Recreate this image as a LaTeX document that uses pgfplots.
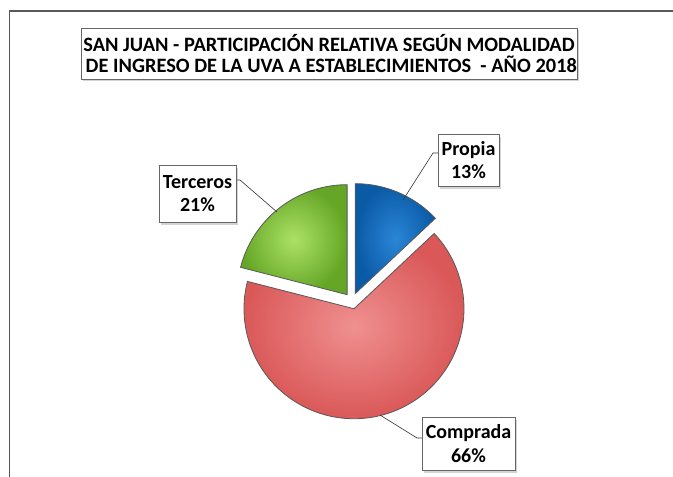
\documentclass[border=0pt]{standalone}
\usepackage{pgfplots}
\pgfplotsset{compat=1.18}
\usepackage{pgfplotstable}
\usepackage{fontspec}
\setmainfont{Carlito}
\usetikzlibrary{shadows}

\definecolor{blueIn}{HTML}{2A86D6}
\definecolor{blueOut}{HTML}{0A5AA6}
\definecolor{redIn}{HTML}{F09090}
\definecolor{redOut}{HTML}{DA5858}
\definecolor{greenIn}{HTML}{ACE265}
\definecolor{greenOut}{HTML}{65A626}

\pgfplotstableread{
label value
Propia 13
Comprada 66
Terceros 21
}\piedata

\begin{document}
\begin{tikzpicture}
\pgfplotstablegetelem{0}{value}\of\piedata \let\vA\pgfplotsretval
\pgfplotstablegetelem{1}{value}\of\piedata \let\vB\pgfplotsretval
\pgfplotstablegetelem{2}{value}\of\piedata \let\vC\pgfplotsretval
\pgfmathsetmacro\aA{90}
\pgfmathsetmacro\aB{\aA-3.6*\vA}
\pgfmathsetmacro\aC{\aB-3.6*\vB}
\pgfmathsetmacro\aD{\aC-3.6*\vC}
\def\R{110}\def\cx{352}\def\cy{301}\def\ex{8}
\pgfmathsetmacro\mA{(\aA+\aB)/2}
\pgfmathsetmacro\mB{(\aB+\aC)/2}
\pgfmathsetmacro\mC{(\aC+\aD)/2}
\pgfmathsetmacro\oxA{\cx+\ex*cos(\mA)}\pgfmathsetmacro\oyA{\cy-\ex*sin(\mA)}
\pgfmathsetmacro\oxB{\cx+\ex*cos(\mB)}\pgfmathsetmacro\oyB{\cy-\ex*sin(\mB)}
\pgfmathsetmacro\oxC{\cx+\ex*cos(\mC)}\pgfmathsetmacro\oyC{\cy-\ex*sin(\mC)}
\begin{axis}[
  width=673bp, height=477bp, scale only axis,
  xmin=0, xmax=673, ymin=0, ymax=477, y dir=reverse,
  hide axis, clip=false,
]
% frame
\draw[gray!70!black, line width=1.5bp] (axis cs:9.5,477) -- (axis cs:9.5,11) -- (axis cs:673,11);

% slices
\addplot[draw=black!65, line width=0.8bp, inner color=blueIn, outer color=blueOut,
  domain=\aB:\aA, samples=60, variable=\t]
  ({\oxA+\R*cos(\t)},{\oyA-\R*sin(\t)}) -- (axis cs:\oxA,\oyA) -- cycle;
\addplot[draw=black!65, line width=0.8bp, inner color=redIn, outer color=redOut,
  domain=\aC:\aB, samples=120, variable=\t]
  ({\oxB+\R*cos(\t)},{\oyB-\R*sin(\t)}) -- (axis cs:\oxB,\oyB) -- cycle;
\addplot[draw=black!65, line width=0.8bp, inner color=greenIn, outer color=greenOut,
  domain=\aD:\aC, samples=60, variable=\t]
  ({\oxC+\R*cos(\t)},{\oyC-\R*sin(\t)}) -- (axis cs:\oxC,\oyC) -- cycle;

% leader lines
\draw[black!80, line width=0.6bp] (axis cs:438,153) -- (axis cs:433,153) -- (axis cs:403,200);
\draw[black!80, line width=0.6bp] (axis cs:236,180) -- (axis cs:240,180) -- (axis cs:277,212);
\draw[black!80, line width=0.6bp] (axis cs:422,438) -- (axis cs:417,438) -- (axis cs:380,415);

% title
\node[draw=black!60, fill=white, drop shadow={shadow xshift=2bp, shadow yshift=-2.5bp, opacity=0.35},
  minimum width=496bp, minimum height=51bp, inner sep=0pt, align=center,
  font=\fontsize{20.4bp}{21.5bp}\selectfont\bfseries]
  at (axis cs:329,53.5) {SAN JUAN - PARTICIPACIÓN RELATIVA SEGÚN MODALIDAD\\
  \ DE INGRESO DE LA UVA A ESTABLECIMIENTOS \ - AÑO 2018};

% labels
\tikzset{lab/.style={draw=black!60, fill=white, drop shadow={shadow xshift=2bp, shadow yshift=-2.5bp, opacity=0.35},
  inner sep=0pt, align=center, font=\fontsize{20bp}{23.5bp}\selectfont\bfseries}}
\node[lab, minimum width=61bp, minimum height=52bp] at (axis cs:468.5,160) {Propia\\13\%};
\node[lab, minimum width=77bp, minimum height=57bp] at (axis cs:197.5,193.5) {Terceros\\21\%};
\node[lab, minimum width=93bp, minimum height=53bp] at (axis cs:468.5,443.5) {Comprada\\66\%};
\end{axis}
\pgfresetboundingbox
\path (current axis.south west) rectangle (current axis.north east);
\end{tikzpicture}
\end{document}
